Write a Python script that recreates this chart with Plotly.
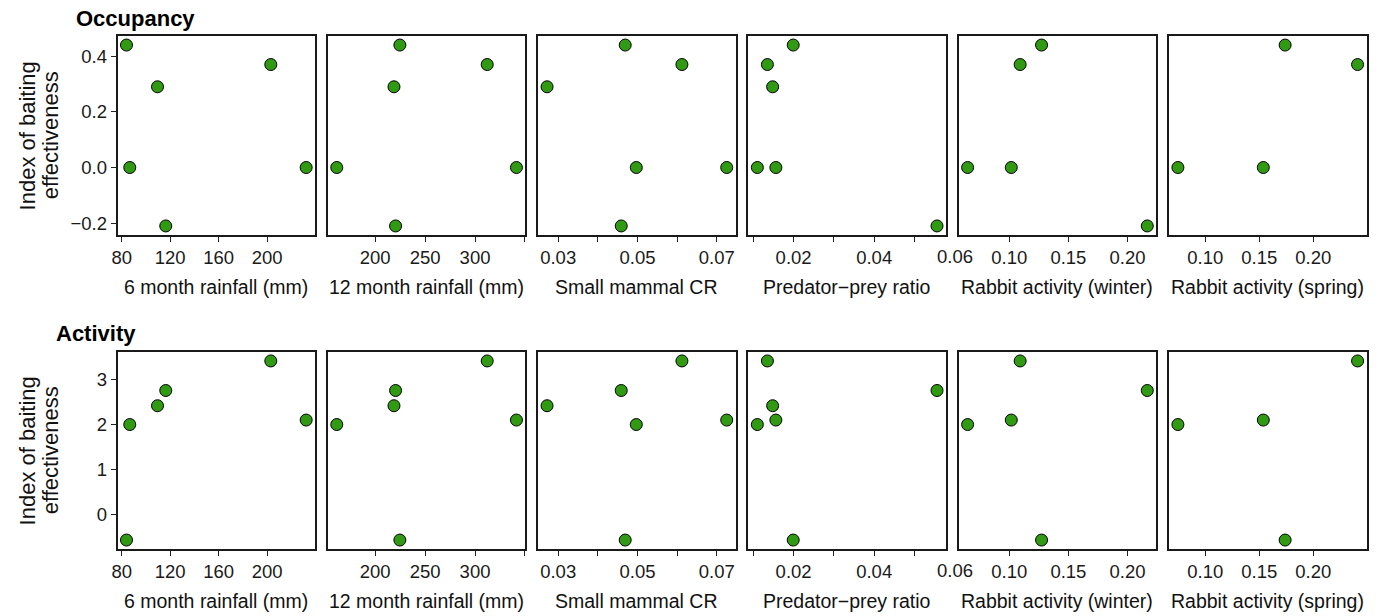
import plotly.graph_objects as go

# ---- data (one value per site; None = not measured) ----
occupancy = [0.44, 0.0, 0.29, -0.21, 0.37, 0.0]
activity = [-0.58, 2.0, 2.42, 2.76, 3.42, 2.1]

rain6 = [83.9, 86.6, 109.5, 116.3, 203.0, 232.2]
rain12 = [224.7, 161.5, 218.8, 220.4, 312.2, 341.5]
small_mammal = [0.0469, 0.0497, 0.0272, 0.0459, 0.0612, 0.0725]
pred_prey = [0.0199, 0.0110, 0.0148, 0.0556, 0.0135, 0.0156]
rabbit_winter = [0.1273, 0.0648, None, 0.2167, 0.1092, 0.1017]
rabbit_spring = [0.1739, 0.0746, None, None, 0.2410, 0.1537]

predictor_names = ["6 month rainfall (mm)", "12 month rainfall (mm)", "Small mammal CR",
                   "Predator\u2212prey ratio", "Rabbit activity (winter)", "Rabbit activity (spring)"]
predictors = [rain6, rain12, small_mammal, pred_prey, rabbit_winter, rabbit_spring]

x_tickvals = [[80, 120, 160, 200], [200, 250, 300, 350], [0.03, 0.04, 0.05, 0.06, 0.07],
              [0.01, 0.02, 0.03, 0.04, 0.05], [0.10, 0.15, 0.20], [0.10, 0.15, 0.20]]
x_ticktext = [["80", "120", "160", "200"], ["200", "250", "300", ""], ["0.03", "", "0.05", "", "0.07"],
              ["", "0.02", "", "0.04", ""], ["0.10", "0.15", "0.20"], ["0.10", "0.15", "0.20"]]
# label drawn just past the end of the predator-prey axis
pred_prey_extra_label = 0.06

row_titles = ["Occupancy", "Activity"]
responses = [occupancy, activity]
y_tickvals = [[-0.2, 0.0, 0.2, 0.4], [0, 1, 2, 3]]
y_ticktext = [["\u22120.2", "0.0", "0.2", "0.4"], ["0", "1", "2", "3"]]
y_title_lines = ["Index of baiting", "effectiveness"]

# ---- layout geometry (pixels) ----
W, H = 1380, 616
panel_left0, panel_w, panel_step = 112, 198.5, 211.2
row_tops = [36, 352]
row_bottoms = [235, 549]
row_title_x = [68, 48]
row_title_y = [18, 333]

FONT = "Liberation Sans, Arial, Helvetica, sans-serif"
TICK_COLOR = "#1a1a1a"
GREEN = "#2f9a12"
TICK_SIZE = 18.5


def expand(vals, frac=0.05):
    v = [a for a in vals if a is not None]
    lo, hi = min(v), max(v)
    d = (hi - lo) * frac
    return [lo - d, hi + d]


fig = go.Figure()
annotations = []
layout_axes = {}

for r in range(2):
    yd = [1 - row_bottoms[r] / H, 1 - row_tops[r] / H]
    yresp = responses[r]
    for c in range(6):
        idx = r * 6 + c + 1
        xa = "x" if idx == 1 else f"x{idx}"
        ya = "y" if idx == 1 else f"y{idx}"
        xkey = "xaxis" if idx == 1 else f"xaxis{idx}"
        ykey = "yaxis" if idx == 1 else f"yaxis{idx}"
        xvals = predictors[c]
        xr = expand(xvals)
        pts = [(xv, yv) for xv, yv in zip(xvals, yresp) if xv is not None]
        fig.add_trace(go.Scatter(
            x=[p[0] for p in pts], y=[p[1] for p in pts], mode="markers",
            xaxis=xa, yaxis=ya, showlegend=False, cliponaxis=False,
            marker=dict(size=12, color=GREEN, line=dict(color="black", width=1)),
        ))
        x0 = (panel_left0 + c * panel_step) / W
        x1 = (panel_left0 + c * panel_step + panel_w) / W
        layout_axes[xkey] = dict(
            domain=[x0, x1], anchor=ya, range=xr,
            tickmode="array", tickvals=x_tickvals[c], ticktext=x_ticktext[c],
            ticks="outside", ticklen=5, tickwidth=1.2, tickcolor="#222",
            showline=True, mirror=True, linecolor="#1a1a1a", linewidth=1.6,
            showgrid=False, zeroline=False,
            tickfont=dict(family=FONT, size=TICK_SIZE, color=TICK_COLOR),
        )
        yaxis = dict(
            domain=yd, anchor=xa, range=expand(yresp),
            showline=True, mirror=True, linecolor="#1a1a1a", linewidth=1.6,
            showgrid=False, zeroline=False,
        )
        if c == 0:
            yaxis.update(tickmode="array", tickvals=y_tickvals[r], ticktext=y_ticktext[r],
                         ticks="outside", ticklen=5, tickwidth=1.2, tickcolor="#222",
                         tickfont=dict(family=FONT, size=TICK_SIZE, color=TICK_COLOR))
        else:
            yaxis.update(showticklabels=False, ticks="")
        layout_axes[ykey] = yaxis

        # x axis title
        annotations.append(dict(
            text=predictor_names[c], xref="paper", yref="paper",
            x=(x0 + x1) / 2, y=1 - (row_bottoms[r] + 52) / H,
            xanchor="center", yanchor="middle", showarrow=False,
            font=dict(family=FONT, size=19.5, color="#111"),
        ))
        # extra "0.06" label on the predator-prey panel (beyond the axis end)
        if c == 3:
            frac = (pred_prey_extra_label - xr[0]) / (xr[1] - xr[0])
            annotations.append(dict(
                text=f"{pred_prey_extra_label:.2f}", xref=f"{xa} domain", yref="paper", x=frac,
                y=1 - (row_bottoms[r] + 21) / H,
                xanchor="center", yanchor="middle", showarrow=False,
                font=dict(family=FONT, size=TICK_SIZE, color=TICK_COLOR),
            ))

    # y-axis title (two tightly spaced lines)
    ymid = 1 - ((row_tops[r] + row_bottoms[r]) / 2) / H
    for line, xc in zip(y_title_lines, [22, 45]):
        annotations.append(dict(
            text=line, xref="paper", yref="paper",
            x=xc / W, y=ymid,
            xanchor="center", yanchor="middle", textangle=-90, showarrow=False,
            font=dict(family=FONT, size=22, color="#111"),
        ))

    # row title
    annotations.append(dict(text=f"<b>{row_titles[r]}</b>", xref="paper", yref="paper",
                            x=row_title_x[r] / W, y=1 - row_title_y[r] / H,
                            xanchor="left", yanchor="middle", showarrow=False,
                            font=dict(family=FONT, size=22, color="black")))

fig.update_layout(
    width=W, height=H, margin=dict(l=0, r=0, t=0, b=0),
    paper_bgcolor="white", plot_bgcolor="white",
    annotations=annotations, **layout_axes,
)

fig.write_html("out.html", config={"displayModeBar": False},
               post_script="document.body.style.margin='0';")
